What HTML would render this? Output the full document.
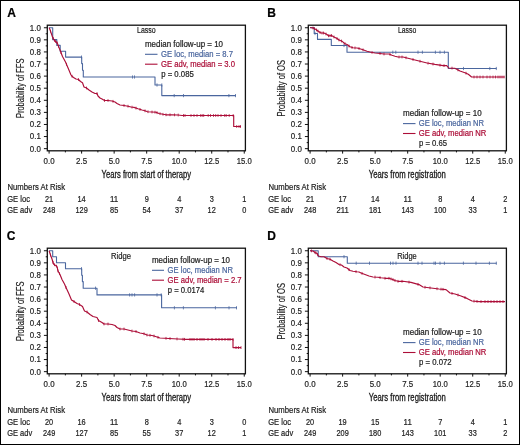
<!DOCTYPE html>
<html><head><meta charset="utf-8"><style>
html,body{margin:0;padding:0;background:#fff;}
body{width:520px;height:445px;overflow:hidden;position:relative;}
svg{display:block;position:absolute;left:0;top:0;will-change:transform;}
svg text{font-family:"Liberation Sans", sans-serif;stroke:currentColor;stroke-width:0.2px;}
.bd{position:absolute;left:0;top:0;width:518px;height:443px;border:1px solid #000;}
</style></head><body>
<svg width="520" height="445" viewBox="0 0 520 445" font-family="Liberation Sans, sans-serif">
<rect x="0" y="0" width="520" height="445" fill="#fff"/>
<g transform="translate(0,0)">
<text x="7.30" y="16.80" font-size="12.0" fill="#000" color="#000" font-weight="bold" font-family="Liberation Sans">A</text>
<rect x="47.3" y="25.2" width="198.10" height="125.60" fill="none" stroke="#111" stroke-width="1.3"/>
<line x1="43.90" y1="148.65" x2="47.30" y2="148.65" stroke="#111" stroke-width="1"/>
<text x="40.80" y="151.55" font-size="9.0" fill="#222" color="#222" text-anchor="end" textLength="11.0" lengthAdjust="spacingAndGlyphs">0.0</text>
<line x1="43.90" y1="136.56" x2="47.30" y2="136.56" stroke="#111" stroke-width="1"/>
<text x="40.80" y="139.46" font-size="9.0" fill="#222" color="#222" text-anchor="end" textLength="11.0" lengthAdjust="spacingAndGlyphs">0.1</text>
<line x1="43.90" y1="124.47" x2="47.30" y2="124.47" stroke="#111" stroke-width="1"/>
<text x="40.80" y="127.37" font-size="9.0" fill="#222" color="#222" text-anchor="end" textLength="11.0" lengthAdjust="spacingAndGlyphs">0.2</text>
<line x1="43.90" y1="112.38" x2="47.30" y2="112.38" stroke="#111" stroke-width="1"/>
<text x="40.80" y="115.28" font-size="9.0" fill="#222" color="#222" text-anchor="end" textLength="11.0" lengthAdjust="spacingAndGlyphs">0.3</text>
<line x1="43.90" y1="100.29" x2="47.30" y2="100.29" stroke="#111" stroke-width="1"/>
<text x="40.80" y="103.19" font-size="9.0" fill="#222" color="#222" text-anchor="end" textLength="11.0" lengthAdjust="spacingAndGlyphs">0.4</text>
<line x1="43.90" y1="88.20" x2="47.30" y2="88.20" stroke="#111" stroke-width="1"/>
<text x="40.80" y="91.10" font-size="9.0" fill="#222" color="#222" text-anchor="end" textLength="11.0" lengthAdjust="spacingAndGlyphs">0.5</text>
<line x1="43.90" y1="76.11" x2="47.30" y2="76.11" stroke="#111" stroke-width="1"/>
<text x="40.80" y="79.01" font-size="9.0" fill="#222" color="#222" text-anchor="end" textLength="11.0" lengthAdjust="spacingAndGlyphs">0.6</text>
<line x1="43.90" y1="64.02" x2="47.30" y2="64.02" stroke="#111" stroke-width="1"/>
<text x="40.80" y="66.92" font-size="9.0" fill="#222" color="#222" text-anchor="end" textLength="11.0" lengthAdjust="spacingAndGlyphs">0.7</text>
<line x1="43.90" y1="51.93" x2="47.30" y2="51.93" stroke="#111" stroke-width="1"/>
<text x="40.80" y="54.83" font-size="9.0" fill="#222" color="#222" text-anchor="end" textLength="11.0" lengthAdjust="spacingAndGlyphs">0.8</text>
<line x1="43.90" y1="39.84" x2="47.30" y2="39.84" stroke="#111" stroke-width="1"/>
<text x="40.80" y="42.74" font-size="9.0" fill="#222" color="#222" text-anchor="end" textLength="11.0" lengthAdjust="spacingAndGlyphs">0.9</text>
<line x1="43.90" y1="27.75" x2="47.30" y2="27.75" stroke="#111" stroke-width="1"/>
<text x="40.80" y="30.65" font-size="9.0" fill="#222" color="#222" text-anchor="end" textLength="11.0" lengthAdjust="spacingAndGlyphs">1.0</text>
<line x1="45.70" y1="142.61" x2="47.30" y2="142.61" stroke="#111" stroke-width="1"/>
<line x1="45.70" y1="130.51" x2="47.30" y2="130.51" stroke="#111" stroke-width="1"/>
<line x1="45.70" y1="118.43" x2="47.30" y2="118.43" stroke="#111" stroke-width="1"/>
<line x1="45.70" y1="106.34" x2="47.30" y2="106.34" stroke="#111" stroke-width="1"/>
<line x1="45.70" y1="94.25" x2="47.30" y2="94.25" stroke="#111" stroke-width="1"/>
<line x1="45.70" y1="82.16" x2="47.30" y2="82.16" stroke="#111" stroke-width="1"/>
<line x1="45.70" y1="70.06" x2="47.30" y2="70.06" stroke="#111" stroke-width="1"/>
<line x1="45.70" y1="57.97" x2="47.30" y2="57.97" stroke="#111" stroke-width="1"/>
<line x1="45.70" y1="45.88" x2="47.30" y2="45.88" stroke="#111" stroke-width="1"/>
<line x1="45.70" y1="33.79" x2="47.30" y2="33.79" stroke="#111" stroke-width="1"/>
<line x1="49.10" y1="150.80" x2="49.10" y2="153.60" stroke="#111" stroke-width="1"/>
<text x="49.10" y="164.30" font-size="9.0" fill="#222" color="#222" text-anchor="middle" textLength="11.0" lengthAdjust="spacingAndGlyphs">0.0</text>
<line x1="81.62" y1="150.80" x2="81.62" y2="153.60" stroke="#111" stroke-width="1"/>
<text x="81.62" y="164.30" font-size="9.0" fill="#222" color="#222" text-anchor="middle" textLength="11.0" lengthAdjust="spacingAndGlyphs">2.5</text>
<line x1="114.15" y1="150.80" x2="114.15" y2="153.60" stroke="#111" stroke-width="1"/>
<text x="114.15" y="164.30" font-size="9.0" fill="#222" color="#222" text-anchor="middle" textLength="11.0" lengthAdjust="spacingAndGlyphs">5.0</text>
<line x1="146.68" y1="150.80" x2="146.68" y2="153.60" stroke="#111" stroke-width="1"/>
<text x="146.68" y="164.30" font-size="9.0" fill="#222" color="#222" text-anchor="middle" textLength="11.0" lengthAdjust="spacingAndGlyphs">7.5</text>
<line x1="179.20" y1="150.80" x2="179.20" y2="153.60" stroke="#111" stroke-width="1"/>
<text x="179.20" y="164.30" font-size="9.0" fill="#222" color="#222" text-anchor="middle" textLength="15.0" lengthAdjust="spacingAndGlyphs">10.0</text>
<line x1="211.72" y1="150.80" x2="211.72" y2="153.60" stroke="#111" stroke-width="1"/>
<text x="211.72" y="164.30" font-size="9.0" fill="#222" color="#222" text-anchor="middle" textLength="15.0" lengthAdjust="spacingAndGlyphs">12.5</text>
<line x1="244.25" y1="150.80" x2="244.25" y2="153.60" stroke="#111" stroke-width="1"/>
<text x="244.25" y="164.30" font-size="9.0" fill="#222" color="#222" text-anchor="middle" textLength="15.0" lengthAdjust="spacingAndGlyphs">15.0</text>
<line x1="65.36" y1="150.80" x2="65.36" y2="152.40" stroke="#111" stroke-width="1"/>
<line x1="97.89" y1="150.80" x2="97.89" y2="152.40" stroke="#111" stroke-width="1"/>
<line x1="130.41" y1="150.80" x2="130.41" y2="152.40" stroke="#111" stroke-width="1"/>
<line x1="162.94" y1="150.80" x2="162.94" y2="152.40" stroke="#111" stroke-width="1"/>
<line x1="195.46" y1="150.80" x2="195.46" y2="152.40" stroke="#111" stroke-width="1"/>
<line x1="227.99" y1="150.80" x2="227.99" y2="152.40" stroke="#111" stroke-width="1"/>
<text transform="translate(146.3,177.6) scale(0.7626,1)" x="0" y="0" font-size="10.0" fill="#1a1a1a" color="#1a1a1a" style="stroke-width:0.3px" text-anchor="middle">Years from start of therapy</text>
<text transform="translate(24.3,88.3) rotate(-90) scale(0.7509,1)" x="0" y="0" font-size="10" fill="#222" color="#222" style="stroke-width:0.15px" text-anchor="middle">Probability of FFS</text>
<text x="7.50" y="190.00" font-size="8.5" fill="#222" color="#222" textLength="57.5" lengthAdjust="spacingAndGlyphs">Numbers At Risk</text>
<text x="7.20" y="201.70" font-size="8.5" fill="#222" color="#222" textLength="22.8" lengthAdjust="spacingAndGlyphs">GE loc</text>
<text x="7.20" y="212.80" font-size="8.5" fill="#222" color="#222" textLength="25.0" lengthAdjust="spacingAndGlyphs">GE adv</text>
<text x="49.10" y="201.70" font-size="8.5" fill="#222" color="#222" text-anchor="middle" textLength="8.2" lengthAdjust="spacingAndGlyphs">21</text>
<text x="49.10" y="212.80" font-size="8.5" fill="#222" color="#222" text-anchor="middle" textLength="12.299999999999999" lengthAdjust="spacingAndGlyphs">248</text>
<text x="81.62" y="201.70" font-size="8.5" fill="#222" color="#222" text-anchor="middle" textLength="8.2" lengthAdjust="spacingAndGlyphs">14</text>
<text x="81.62" y="212.80" font-size="8.5" fill="#222" color="#222" text-anchor="middle" textLength="12.299999999999999" lengthAdjust="spacingAndGlyphs">129</text>
<text x="114.15" y="201.70" font-size="8.5" fill="#222" color="#222" text-anchor="middle" textLength="8.2" lengthAdjust="spacingAndGlyphs">11</text>
<text x="114.15" y="212.80" font-size="8.5" fill="#222" color="#222" text-anchor="middle" textLength="8.2" lengthAdjust="spacingAndGlyphs">85</text>
<text x="146.68" y="201.70" font-size="8.5" fill="#222" color="#222" text-anchor="middle" textLength="4.1" lengthAdjust="spacingAndGlyphs">9</text>
<text x="146.68" y="212.80" font-size="8.5" fill="#222" color="#222" text-anchor="middle" textLength="8.2" lengthAdjust="spacingAndGlyphs">54</text>
<text x="179.20" y="201.70" font-size="8.5" fill="#222" color="#222" text-anchor="middle" textLength="4.1" lengthAdjust="spacingAndGlyphs">4</text>
<text x="179.20" y="212.80" font-size="8.5" fill="#222" color="#222" text-anchor="middle" textLength="8.2" lengthAdjust="spacingAndGlyphs">37</text>
<text x="211.72" y="201.70" font-size="8.5" fill="#222" color="#222" text-anchor="middle" textLength="4.1" lengthAdjust="spacingAndGlyphs">3</text>
<text x="211.72" y="212.80" font-size="8.5" fill="#222" color="#222" text-anchor="middle" textLength="8.2" lengthAdjust="spacingAndGlyphs">12</text>
<text x="244.25" y="201.70" font-size="8.5" fill="#222" color="#222" text-anchor="middle" textLength="4.1" lengthAdjust="spacingAndGlyphs">1</text>
<text x="244.25" y="212.80" font-size="8.5" fill="#222" color="#222" text-anchor="middle" textLength="4.1" lengthAdjust="spacingAndGlyphs">0</text>
</g>
<g transform="translate(261,0)">
<text x="6.30" y="16.80" font-size="12.0" fill="#000" color="#000" font-weight="bold" font-family="Liberation Sans">B</text>
<rect x="47.3" y="25.2" width="198.10" height="125.60" fill="none" stroke="#111" stroke-width="1.3"/>
<line x1="43.90" y1="148.65" x2="47.30" y2="148.65" stroke="#111" stroke-width="1"/>
<text x="40.80" y="151.55" font-size="9.0" fill="#222" color="#222" text-anchor="end" textLength="11.0" lengthAdjust="spacingAndGlyphs">0.0</text>
<line x1="43.90" y1="136.56" x2="47.30" y2="136.56" stroke="#111" stroke-width="1"/>
<text x="40.80" y="139.46" font-size="9.0" fill="#222" color="#222" text-anchor="end" textLength="11.0" lengthAdjust="spacingAndGlyphs">0.1</text>
<line x1="43.90" y1="124.47" x2="47.30" y2="124.47" stroke="#111" stroke-width="1"/>
<text x="40.80" y="127.37" font-size="9.0" fill="#222" color="#222" text-anchor="end" textLength="11.0" lengthAdjust="spacingAndGlyphs">0.2</text>
<line x1="43.90" y1="112.38" x2="47.30" y2="112.38" stroke="#111" stroke-width="1"/>
<text x="40.80" y="115.28" font-size="9.0" fill="#222" color="#222" text-anchor="end" textLength="11.0" lengthAdjust="spacingAndGlyphs">0.3</text>
<line x1="43.90" y1="100.29" x2="47.30" y2="100.29" stroke="#111" stroke-width="1"/>
<text x="40.80" y="103.19" font-size="9.0" fill="#222" color="#222" text-anchor="end" textLength="11.0" lengthAdjust="spacingAndGlyphs">0.4</text>
<line x1="43.90" y1="88.20" x2="47.30" y2="88.20" stroke="#111" stroke-width="1"/>
<text x="40.80" y="91.10" font-size="9.0" fill="#222" color="#222" text-anchor="end" textLength="11.0" lengthAdjust="spacingAndGlyphs">0.5</text>
<line x1="43.90" y1="76.11" x2="47.30" y2="76.11" stroke="#111" stroke-width="1"/>
<text x="40.80" y="79.01" font-size="9.0" fill="#222" color="#222" text-anchor="end" textLength="11.0" lengthAdjust="spacingAndGlyphs">0.6</text>
<line x1="43.90" y1="64.02" x2="47.30" y2="64.02" stroke="#111" stroke-width="1"/>
<text x="40.80" y="66.92" font-size="9.0" fill="#222" color="#222" text-anchor="end" textLength="11.0" lengthAdjust="spacingAndGlyphs">0.7</text>
<line x1="43.90" y1="51.93" x2="47.30" y2="51.93" stroke="#111" stroke-width="1"/>
<text x="40.80" y="54.83" font-size="9.0" fill="#222" color="#222" text-anchor="end" textLength="11.0" lengthAdjust="spacingAndGlyphs">0.8</text>
<line x1="43.90" y1="39.84" x2="47.30" y2="39.84" stroke="#111" stroke-width="1"/>
<text x="40.80" y="42.74" font-size="9.0" fill="#222" color="#222" text-anchor="end" textLength="11.0" lengthAdjust="spacingAndGlyphs">0.9</text>
<line x1="43.90" y1="27.75" x2="47.30" y2="27.75" stroke="#111" stroke-width="1"/>
<text x="40.80" y="30.65" font-size="9.0" fill="#222" color="#222" text-anchor="end" textLength="11.0" lengthAdjust="spacingAndGlyphs">1.0</text>
<line x1="45.70" y1="142.61" x2="47.30" y2="142.61" stroke="#111" stroke-width="1"/>
<line x1="45.70" y1="130.51" x2="47.30" y2="130.51" stroke="#111" stroke-width="1"/>
<line x1="45.70" y1="118.43" x2="47.30" y2="118.43" stroke="#111" stroke-width="1"/>
<line x1="45.70" y1="106.34" x2="47.30" y2="106.34" stroke="#111" stroke-width="1"/>
<line x1="45.70" y1="94.25" x2="47.30" y2="94.25" stroke="#111" stroke-width="1"/>
<line x1="45.70" y1="82.16" x2="47.30" y2="82.16" stroke="#111" stroke-width="1"/>
<line x1="45.70" y1="70.06" x2="47.30" y2="70.06" stroke="#111" stroke-width="1"/>
<line x1="45.70" y1="57.97" x2="47.30" y2="57.97" stroke="#111" stroke-width="1"/>
<line x1="45.70" y1="45.88" x2="47.30" y2="45.88" stroke="#111" stroke-width="1"/>
<line x1="45.70" y1="33.79" x2="47.30" y2="33.79" stroke="#111" stroke-width="1"/>
<line x1="49.10" y1="150.80" x2="49.10" y2="153.60" stroke="#111" stroke-width="1"/>
<text x="49.10" y="164.30" font-size="9.0" fill="#222" color="#222" text-anchor="middle" textLength="11.0" lengthAdjust="spacingAndGlyphs">0.0</text>
<line x1="81.62" y1="150.80" x2="81.62" y2="153.60" stroke="#111" stroke-width="1"/>
<text x="81.62" y="164.30" font-size="9.0" fill="#222" color="#222" text-anchor="middle" textLength="11.0" lengthAdjust="spacingAndGlyphs">2.5</text>
<line x1="114.15" y1="150.80" x2="114.15" y2="153.60" stroke="#111" stroke-width="1"/>
<text x="114.15" y="164.30" font-size="9.0" fill="#222" color="#222" text-anchor="middle" textLength="11.0" lengthAdjust="spacingAndGlyphs">5.0</text>
<line x1="146.68" y1="150.80" x2="146.68" y2="153.60" stroke="#111" stroke-width="1"/>
<text x="146.68" y="164.30" font-size="9.0" fill="#222" color="#222" text-anchor="middle" textLength="11.0" lengthAdjust="spacingAndGlyphs">7.5</text>
<line x1="179.20" y1="150.80" x2="179.20" y2="153.60" stroke="#111" stroke-width="1"/>
<text x="179.20" y="164.30" font-size="9.0" fill="#222" color="#222" text-anchor="middle" textLength="15.0" lengthAdjust="spacingAndGlyphs">10.0</text>
<line x1="211.72" y1="150.80" x2="211.72" y2="153.60" stroke="#111" stroke-width="1"/>
<text x="211.72" y="164.30" font-size="9.0" fill="#222" color="#222" text-anchor="middle" textLength="15.0" lengthAdjust="spacingAndGlyphs">12.5</text>
<line x1="244.25" y1="150.80" x2="244.25" y2="153.60" stroke="#111" stroke-width="1"/>
<text x="244.25" y="164.30" font-size="9.0" fill="#222" color="#222" text-anchor="middle" textLength="15.0" lengthAdjust="spacingAndGlyphs">15.0</text>
<line x1="65.36" y1="150.80" x2="65.36" y2="152.40" stroke="#111" stroke-width="1"/>
<line x1="97.89" y1="150.80" x2="97.89" y2="152.40" stroke="#111" stroke-width="1"/>
<line x1="130.41" y1="150.80" x2="130.41" y2="152.40" stroke="#111" stroke-width="1"/>
<line x1="162.94" y1="150.80" x2="162.94" y2="152.40" stroke="#111" stroke-width="1"/>
<line x1="195.46" y1="150.80" x2="195.46" y2="152.40" stroke="#111" stroke-width="1"/>
<line x1="227.99" y1="150.80" x2="227.99" y2="152.40" stroke="#111" stroke-width="1"/>
<text transform="translate(146.3,177.6) scale(0.7703,1)" x="0" y="0" font-size="10.0" fill="#1a1a1a" color="#1a1a1a" style="stroke-width:0.3px" text-anchor="middle">Years from registration</text>
<text transform="translate(24.3,88.3) rotate(-90) scale(0.7530,1)" x="0" y="0" font-size="10" fill="#222" color="#222" style="stroke-width:0.15px" text-anchor="middle">Probability of OS</text>
<text x="7.50" y="190.00" font-size="8.5" fill="#222" color="#222" textLength="57.5" lengthAdjust="spacingAndGlyphs">Numbers At Risk</text>
<text x="7.20" y="201.70" font-size="8.5" fill="#222" color="#222" textLength="22.8" lengthAdjust="spacingAndGlyphs">GE loc</text>
<text x="7.20" y="212.80" font-size="8.5" fill="#222" color="#222" textLength="25.0" lengthAdjust="spacingAndGlyphs">GE adv</text>
<text x="49.10" y="201.70" font-size="8.5" fill="#222" color="#222" text-anchor="middle" textLength="8.2" lengthAdjust="spacingAndGlyphs">21</text>
<text x="49.10" y="212.80" font-size="8.5" fill="#222" color="#222" text-anchor="middle" textLength="12.299999999999999" lengthAdjust="spacingAndGlyphs">248</text>
<text x="81.62" y="201.70" font-size="8.5" fill="#222" color="#222" text-anchor="middle" textLength="8.2" lengthAdjust="spacingAndGlyphs">17</text>
<text x="81.62" y="212.80" font-size="8.5" fill="#222" color="#222" text-anchor="middle" textLength="12.299999999999999" lengthAdjust="spacingAndGlyphs">211</text>
<text x="114.15" y="201.70" font-size="8.5" fill="#222" color="#222" text-anchor="middle" textLength="8.2" lengthAdjust="spacingAndGlyphs">14</text>
<text x="114.15" y="212.80" font-size="8.5" fill="#222" color="#222" text-anchor="middle" textLength="12.299999999999999" lengthAdjust="spacingAndGlyphs">181</text>
<text x="146.68" y="201.70" font-size="8.5" fill="#222" color="#222" text-anchor="middle" textLength="8.2" lengthAdjust="spacingAndGlyphs">11</text>
<text x="146.68" y="212.80" font-size="8.5" fill="#222" color="#222" text-anchor="middle" textLength="12.299999999999999" lengthAdjust="spacingAndGlyphs">143</text>
<text x="179.20" y="201.70" font-size="8.5" fill="#222" color="#222" text-anchor="middle" textLength="4.1" lengthAdjust="spacingAndGlyphs">8</text>
<text x="179.20" y="212.80" font-size="8.5" fill="#222" color="#222" text-anchor="middle" textLength="12.299999999999999" lengthAdjust="spacingAndGlyphs">100</text>
<text x="211.72" y="201.70" font-size="8.5" fill="#222" color="#222" text-anchor="middle" textLength="4.1" lengthAdjust="spacingAndGlyphs">4</text>
<text x="211.72" y="212.80" font-size="8.5" fill="#222" color="#222" text-anchor="middle" textLength="8.2" lengthAdjust="spacingAndGlyphs">33</text>
<text x="244.25" y="201.70" font-size="8.5" fill="#222" color="#222" text-anchor="middle" textLength="4.1" lengthAdjust="spacingAndGlyphs">2</text>
<text x="244.25" y="212.80" font-size="8.5" fill="#222" color="#222" text-anchor="middle" textLength="4.1" lengthAdjust="spacingAndGlyphs">1</text>
</g>
<g transform="translate(0,223)">
<text x="6.70" y="16.80" font-size="12.0" fill="#000" color="#000" font-weight="bold" font-family="Liberation Sans">C</text>
<rect x="47.3" y="25.2" width="198.10" height="125.60" fill="none" stroke="#111" stroke-width="1.3"/>
<line x1="43.90" y1="148.65" x2="47.30" y2="148.65" stroke="#111" stroke-width="1"/>
<text x="40.80" y="151.55" font-size="9.0" fill="#222" color="#222" text-anchor="end" textLength="11.0" lengthAdjust="spacingAndGlyphs">0.0</text>
<line x1="43.90" y1="136.56" x2="47.30" y2="136.56" stroke="#111" stroke-width="1"/>
<text x="40.80" y="139.46" font-size="9.0" fill="#222" color="#222" text-anchor="end" textLength="11.0" lengthAdjust="spacingAndGlyphs">0.1</text>
<line x1="43.90" y1="124.47" x2="47.30" y2="124.47" stroke="#111" stroke-width="1"/>
<text x="40.80" y="127.37" font-size="9.0" fill="#222" color="#222" text-anchor="end" textLength="11.0" lengthAdjust="spacingAndGlyphs">0.2</text>
<line x1="43.90" y1="112.38" x2="47.30" y2="112.38" stroke="#111" stroke-width="1"/>
<text x="40.80" y="115.28" font-size="9.0" fill="#222" color="#222" text-anchor="end" textLength="11.0" lengthAdjust="spacingAndGlyphs">0.3</text>
<line x1="43.90" y1="100.29" x2="47.30" y2="100.29" stroke="#111" stroke-width="1"/>
<text x="40.80" y="103.19" font-size="9.0" fill="#222" color="#222" text-anchor="end" textLength="11.0" lengthAdjust="spacingAndGlyphs">0.4</text>
<line x1="43.90" y1="88.20" x2="47.30" y2="88.20" stroke="#111" stroke-width="1"/>
<text x="40.80" y="91.10" font-size="9.0" fill="#222" color="#222" text-anchor="end" textLength="11.0" lengthAdjust="spacingAndGlyphs">0.5</text>
<line x1="43.90" y1="76.11" x2="47.30" y2="76.11" stroke="#111" stroke-width="1"/>
<text x="40.80" y="79.01" font-size="9.0" fill="#222" color="#222" text-anchor="end" textLength="11.0" lengthAdjust="spacingAndGlyphs">0.6</text>
<line x1="43.90" y1="64.02" x2="47.30" y2="64.02" stroke="#111" stroke-width="1"/>
<text x="40.80" y="66.92" font-size="9.0" fill="#222" color="#222" text-anchor="end" textLength="11.0" lengthAdjust="spacingAndGlyphs">0.7</text>
<line x1="43.90" y1="51.93" x2="47.30" y2="51.93" stroke="#111" stroke-width="1"/>
<text x="40.80" y="54.83" font-size="9.0" fill="#222" color="#222" text-anchor="end" textLength="11.0" lengthAdjust="spacingAndGlyphs">0.8</text>
<line x1="43.90" y1="39.84" x2="47.30" y2="39.84" stroke="#111" stroke-width="1"/>
<text x="40.80" y="42.74" font-size="9.0" fill="#222" color="#222" text-anchor="end" textLength="11.0" lengthAdjust="spacingAndGlyphs">0.9</text>
<line x1="43.90" y1="27.75" x2="47.30" y2="27.75" stroke="#111" stroke-width="1"/>
<text x="40.80" y="30.65" font-size="9.0" fill="#222" color="#222" text-anchor="end" textLength="11.0" lengthAdjust="spacingAndGlyphs">1.0</text>
<line x1="45.70" y1="142.61" x2="47.30" y2="142.61" stroke="#111" stroke-width="1"/>
<line x1="45.70" y1="130.51" x2="47.30" y2="130.51" stroke="#111" stroke-width="1"/>
<line x1="45.70" y1="118.43" x2="47.30" y2="118.43" stroke="#111" stroke-width="1"/>
<line x1="45.70" y1="106.34" x2="47.30" y2="106.34" stroke="#111" stroke-width="1"/>
<line x1="45.70" y1="94.25" x2="47.30" y2="94.25" stroke="#111" stroke-width="1"/>
<line x1="45.70" y1="82.16" x2="47.30" y2="82.16" stroke="#111" stroke-width="1"/>
<line x1="45.70" y1="70.06" x2="47.30" y2="70.06" stroke="#111" stroke-width="1"/>
<line x1="45.70" y1="57.97" x2="47.30" y2="57.97" stroke="#111" stroke-width="1"/>
<line x1="45.70" y1="45.88" x2="47.30" y2="45.88" stroke="#111" stroke-width="1"/>
<line x1="45.70" y1="33.79" x2="47.30" y2="33.79" stroke="#111" stroke-width="1"/>
<line x1="49.10" y1="150.80" x2="49.10" y2="153.60" stroke="#111" stroke-width="1"/>
<text x="49.10" y="164.30" font-size="9.0" fill="#222" color="#222" text-anchor="middle" textLength="11.0" lengthAdjust="spacingAndGlyphs">0.0</text>
<line x1="81.62" y1="150.80" x2="81.62" y2="153.60" stroke="#111" stroke-width="1"/>
<text x="81.62" y="164.30" font-size="9.0" fill="#222" color="#222" text-anchor="middle" textLength="11.0" lengthAdjust="spacingAndGlyphs">2.5</text>
<line x1="114.15" y1="150.80" x2="114.15" y2="153.60" stroke="#111" stroke-width="1"/>
<text x="114.15" y="164.30" font-size="9.0" fill="#222" color="#222" text-anchor="middle" textLength="11.0" lengthAdjust="spacingAndGlyphs">5.0</text>
<line x1="146.68" y1="150.80" x2="146.68" y2="153.60" stroke="#111" stroke-width="1"/>
<text x="146.68" y="164.30" font-size="9.0" fill="#222" color="#222" text-anchor="middle" textLength="11.0" lengthAdjust="spacingAndGlyphs">7.5</text>
<line x1="179.20" y1="150.80" x2="179.20" y2="153.60" stroke="#111" stroke-width="1"/>
<text x="179.20" y="164.30" font-size="9.0" fill="#222" color="#222" text-anchor="middle" textLength="15.0" lengthAdjust="spacingAndGlyphs">10.0</text>
<line x1="211.72" y1="150.80" x2="211.72" y2="153.60" stroke="#111" stroke-width="1"/>
<text x="211.72" y="164.30" font-size="9.0" fill="#222" color="#222" text-anchor="middle" textLength="15.0" lengthAdjust="spacingAndGlyphs">12.5</text>
<line x1="244.25" y1="150.80" x2="244.25" y2="153.60" stroke="#111" stroke-width="1"/>
<text x="244.25" y="164.30" font-size="9.0" fill="#222" color="#222" text-anchor="middle" textLength="15.0" lengthAdjust="spacingAndGlyphs">15.0</text>
<line x1="65.36" y1="150.80" x2="65.36" y2="152.40" stroke="#111" stroke-width="1"/>
<line x1="97.89" y1="150.80" x2="97.89" y2="152.40" stroke="#111" stroke-width="1"/>
<line x1="130.41" y1="150.80" x2="130.41" y2="152.40" stroke="#111" stroke-width="1"/>
<line x1="162.94" y1="150.80" x2="162.94" y2="152.40" stroke="#111" stroke-width="1"/>
<line x1="195.46" y1="150.80" x2="195.46" y2="152.40" stroke="#111" stroke-width="1"/>
<line x1="227.99" y1="150.80" x2="227.99" y2="152.40" stroke="#111" stroke-width="1"/>
<text transform="translate(146.3,177.6) scale(0.7626,1)" x="0" y="0" font-size="10.0" fill="#1a1a1a" color="#1a1a1a" style="stroke-width:0.3px" text-anchor="middle">Years from start of therapy</text>
<text transform="translate(24.3,88.3) rotate(-90) scale(0.7509,1)" x="0" y="0" font-size="10" fill="#222" color="#222" style="stroke-width:0.15px" text-anchor="middle">Probability of FFS</text>
<text x="7.50" y="190.00" font-size="8.5" fill="#222" color="#222" textLength="57.5" lengthAdjust="spacingAndGlyphs">Numbers At Risk</text>
<text x="7.20" y="201.70" font-size="8.5" fill="#222" color="#222" textLength="22.8" lengthAdjust="spacingAndGlyphs">GE loc</text>
<text x="7.20" y="212.80" font-size="8.5" fill="#222" color="#222" textLength="25.0" lengthAdjust="spacingAndGlyphs">GE adv</text>
<text x="49.10" y="201.70" font-size="8.5" fill="#222" color="#222" text-anchor="middle" textLength="8.2" lengthAdjust="spacingAndGlyphs">20</text>
<text x="49.10" y="212.80" font-size="8.5" fill="#222" color="#222" text-anchor="middle" textLength="12.299999999999999" lengthAdjust="spacingAndGlyphs">249</text>
<text x="81.62" y="201.70" font-size="8.5" fill="#222" color="#222" text-anchor="middle" textLength="8.2" lengthAdjust="spacingAndGlyphs">16</text>
<text x="81.62" y="212.80" font-size="8.5" fill="#222" color="#222" text-anchor="middle" textLength="12.299999999999999" lengthAdjust="spacingAndGlyphs">127</text>
<text x="114.15" y="201.70" font-size="8.5" fill="#222" color="#222" text-anchor="middle" textLength="8.2" lengthAdjust="spacingAndGlyphs">11</text>
<text x="114.15" y="212.80" font-size="8.5" fill="#222" color="#222" text-anchor="middle" textLength="8.2" lengthAdjust="spacingAndGlyphs">85</text>
<text x="146.68" y="201.70" font-size="8.5" fill="#222" color="#222" text-anchor="middle" textLength="4.1" lengthAdjust="spacingAndGlyphs">8</text>
<text x="146.68" y="212.80" font-size="8.5" fill="#222" color="#222" text-anchor="middle" textLength="8.2" lengthAdjust="spacingAndGlyphs">55</text>
<text x="179.20" y="201.70" font-size="8.5" fill="#222" color="#222" text-anchor="middle" textLength="4.1" lengthAdjust="spacingAndGlyphs">4</text>
<text x="179.20" y="212.80" font-size="8.5" fill="#222" color="#222" text-anchor="middle" textLength="8.2" lengthAdjust="spacingAndGlyphs">37</text>
<text x="211.72" y="201.70" font-size="8.5" fill="#222" color="#222" text-anchor="middle" textLength="4.1" lengthAdjust="spacingAndGlyphs">3</text>
<text x="211.72" y="212.80" font-size="8.5" fill="#222" color="#222" text-anchor="middle" textLength="8.2" lengthAdjust="spacingAndGlyphs">12</text>
<text x="244.25" y="201.70" font-size="8.5" fill="#222" color="#222" text-anchor="middle" textLength="4.1" lengthAdjust="spacingAndGlyphs">0</text>
<text x="244.25" y="212.80" font-size="8.5" fill="#222" color="#222" text-anchor="middle" textLength="4.1" lengthAdjust="spacingAndGlyphs">1</text>
</g>
<g transform="translate(261,223)">
<text x="6.30" y="16.80" font-size="12.0" fill="#000" color="#000" font-weight="bold" font-family="Liberation Sans">D</text>
<rect x="47.3" y="25.2" width="198.10" height="125.60" fill="none" stroke="#111" stroke-width="1.3"/>
<line x1="43.90" y1="148.65" x2="47.30" y2="148.65" stroke="#111" stroke-width="1"/>
<text x="40.80" y="151.55" font-size="9.0" fill="#222" color="#222" text-anchor="end" textLength="11.0" lengthAdjust="spacingAndGlyphs">0.0</text>
<line x1="43.90" y1="136.56" x2="47.30" y2="136.56" stroke="#111" stroke-width="1"/>
<text x="40.80" y="139.46" font-size="9.0" fill="#222" color="#222" text-anchor="end" textLength="11.0" lengthAdjust="spacingAndGlyphs">0.1</text>
<line x1="43.90" y1="124.47" x2="47.30" y2="124.47" stroke="#111" stroke-width="1"/>
<text x="40.80" y="127.37" font-size="9.0" fill="#222" color="#222" text-anchor="end" textLength="11.0" lengthAdjust="spacingAndGlyphs">0.2</text>
<line x1="43.90" y1="112.38" x2="47.30" y2="112.38" stroke="#111" stroke-width="1"/>
<text x="40.80" y="115.28" font-size="9.0" fill="#222" color="#222" text-anchor="end" textLength="11.0" lengthAdjust="spacingAndGlyphs">0.3</text>
<line x1="43.90" y1="100.29" x2="47.30" y2="100.29" stroke="#111" stroke-width="1"/>
<text x="40.80" y="103.19" font-size="9.0" fill="#222" color="#222" text-anchor="end" textLength="11.0" lengthAdjust="spacingAndGlyphs">0.4</text>
<line x1="43.90" y1="88.20" x2="47.30" y2="88.20" stroke="#111" stroke-width="1"/>
<text x="40.80" y="91.10" font-size="9.0" fill="#222" color="#222" text-anchor="end" textLength="11.0" lengthAdjust="spacingAndGlyphs">0.5</text>
<line x1="43.90" y1="76.11" x2="47.30" y2="76.11" stroke="#111" stroke-width="1"/>
<text x="40.80" y="79.01" font-size="9.0" fill="#222" color="#222" text-anchor="end" textLength="11.0" lengthAdjust="spacingAndGlyphs">0.6</text>
<line x1="43.90" y1="64.02" x2="47.30" y2="64.02" stroke="#111" stroke-width="1"/>
<text x="40.80" y="66.92" font-size="9.0" fill="#222" color="#222" text-anchor="end" textLength="11.0" lengthAdjust="spacingAndGlyphs">0.7</text>
<line x1="43.90" y1="51.93" x2="47.30" y2="51.93" stroke="#111" stroke-width="1"/>
<text x="40.80" y="54.83" font-size="9.0" fill="#222" color="#222" text-anchor="end" textLength="11.0" lengthAdjust="spacingAndGlyphs">0.8</text>
<line x1="43.90" y1="39.84" x2="47.30" y2="39.84" stroke="#111" stroke-width="1"/>
<text x="40.80" y="42.74" font-size="9.0" fill="#222" color="#222" text-anchor="end" textLength="11.0" lengthAdjust="spacingAndGlyphs">0.9</text>
<line x1="43.90" y1="27.75" x2="47.30" y2="27.75" stroke="#111" stroke-width="1"/>
<text x="40.80" y="30.65" font-size="9.0" fill="#222" color="#222" text-anchor="end" textLength="11.0" lengthAdjust="spacingAndGlyphs">1.0</text>
<line x1="45.70" y1="142.61" x2="47.30" y2="142.61" stroke="#111" stroke-width="1"/>
<line x1="45.70" y1="130.51" x2="47.30" y2="130.51" stroke="#111" stroke-width="1"/>
<line x1="45.70" y1="118.43" x2="47.30" y2="118.43" stroke="#111" stroke-width="1"/>
<line x1="45.70" y1="106.34" x2="47.30" y2="106.34" stroke="#111" stroke-width="1"/>
<line x1="45.70" y1="94.25" x2="47.30" y2="94.25" stroke="#111" stroke-width="1"/>
<line x1="45.70" y1="82.16" x2="47.30" y2="82.16" stroke="#111" stroke-width="1"/>
<line x1="45.70" y1="70.06" x2="47.30" y2="70.06" stroke="#111" stroke-width="1"/>
<line x1="45.70" y1="57.97" x2="47.30" y2="57.97" stroke="#111" stroke-width="1"/>
<line x1="45.70" y1="45.88" x2="47.30" y2="45.88" stroke="#111" stroke-width="1"/>
<line x1="45.70" y1="33.79" x2="47.30" y2="33.79" stroke="#111" stroke-width="1"/>
<line x1="49.10" y1="150.80" x2="49.10" y2="153.60" stroke="#111" stroke-width="1"/>
<text x="49.10" y="164.30" font-size="9.0" fill="#222" color="#222" text-anchor="middle" textLength="11.0" lengthAdjust="spacingAndGlyphs">0.0</text>
<line x1="81.62" y1="150.80" x2="81.62" y2="153.60" stroke="#111" stroke-width="1"/>
<text x="81.62" y="164.30" font-size="9.0" fill="#222" color="#222" text-anchor="middle" textLength="11.0" lengthAdjust="spacingAndGlyphs">2.5</text>
<line x1="114.15" y1="150.80" x2="114.15" y2="153.60" stroke="#111" stroke-width="1"/>
<text x="114.15" y="164.30" font-size="9.0" fill="#222" color="#222" text-anchor="middle" textLength="11.0" lengthAdjust="spacingAndGlyphs">5.0</text>
<line x1="146.68" y1="150.80" x2="146.68" y2="153.60" stroke="#111" stroke-width="1"/>
<text x="146.68" y="164.30" font-size="9.0" fill="#222" color="#222" text-anchor="middle" textLength="11.0" lengthAdjust="spacingAndGlyphs">7.5</text>
<line x1="179.20" y1="150.80" x2="179.20" y2="153.60" stroke="#111" stroke-width="1"/>
<text x="179.20" y="164.30" font-size="9.0" fill="#222" color="#222" text-anchor="middle" textLength="15.0" lengthAdjust="spacingAndGlyphs">10.0</text>
<line x1="211.72" y1="150.80" x2="211.72" y2="153.60" stroke="#111" stroke-width="1"/>
<text x="211.72" y="164.30" font-size="9.0" fill="#222" color="#222" text-anchor="middle" textLength="15.0" lengthAdjust="spacingAndGlyphs">12.5</text>
<line x1="244.25" y1="150.80" x2="244.25" y2="153.60" stroke="#111" stroke-width="1"/>
<text x="244.25" y="164.30" font-size="9.0" fill="#222" color="#222" text-anchor="middle" textLength="15.0" lengthAdjust="spacingAndGlyphs">15.0</text>
<line x1="65.36" y1="150.80" x2="65.36" y2="152.40" stroke="#111" stroke-width="1"/>
<line x1="97.89" y1="150.80" x2="97.89" y2="152.40" stroke="#111" stroke-width="1"/>
<line x1="130.41" y1="150.80" x2="130.41" y2="152.40" stroke="#111" stroke-width="1"/>
<line x1="162.94" y1="150.80" x2="162.94" y2="152.40" stroke="#111" stroke-width="1"/>
<line x1="195.46" y1="150.80" x2="195.46" y2="152.40" stroke="#111" stroke-width="1"/>
<line x1="227.99" y1="150.80" x2="227.99" y2="152.40" stroke="#111" stroke-width="1"/>
<text transform="translate(146.3,177.6) scale(0.7703,1)" x="0" y="0" font-size="10.0" fill="#1a1a1a" color="#1a1a1a" style="stroke-width:0.3px" text-anchor="middle">Years from registration</text>
<text transform="translate(24.3,88.3) rotate(-90) scale(0.7530,1)" x="0" y="0" font-size="10" fill="#222" color="#222" style="stroke-width:0.15px" text-anchor="middle">Probability of OS</text>
<text x="7.50" y="190.00" font-size="8.5" fill="#222" color="#222" textLength="57.5" lengthAdjust="spacingAndGlyphs">Numbers At Risk</text>
<text x="7.20" y="201.70" font-size="8.5" fill="#222" color="#222" textLength="22.8" lengthAdjust="spacingAndGlyphs">GE loc</text>
<text x="7.20" y="212.80" font-size="8.5" fill="#222" color="#222" textLength="25.0" lengthAdjust="spacingAndGlyphs">GE adv</text>
<text x="49.10" y="201.70" font-size="8.5" fill="#222" color="#222" text-anchor="middle" textLength="8.2" lengthAdjust="spacingAndGlyphs">20</text>
<text x="49.10" y="212.80" font-size="8.5" fill="#222" color="#222" text-anchor="middle" textLength="12.299999999999999" lengthAdjust="spacingAndGlyphs">249</text>
<text x="81.62" y="201.70" font-size="8.5" fill="#222" color="#222" text-anchor="middle" textLength="8.2" lengthAdjust="spacingAndGlyphs">19</text>
<text x="81.62" y="212.80" font-size="8.5" fill="#222" color="#222" text-anchor="middle" textLength="12.299999999999999" lengthAdjust="spacingAndGlyphs">209</text>
<text x="114.15" y="201.70" font-size="8.5" fill="#222" color="#222" text-anchor="middle" textLength="8.2" lengthAdjust="spacingAndGlyphs">15</text>
<text x="114.15" y="212.80" font-size="8.5" fill="#222" color="#222" text-anchor="middle" textLength="12.299999999999999" lengthAdjust="spacingAndGlyphs">180</text>
<text x="146.68" y="201.70" font-size="8.5" fill="#222" color="#222" text-anchor="middle" textLength="8.2" lengthAdjust="spacingAndGlyphs">11</text>
<text x="146.68" y="212.80" font-size="8.5" fill="#222" color="#222" text-anchor="middle" textLength="12.299999999999999" lengthAdjust="spacingAndGlyphs">143</text>
<text x="179.20" y="201.70" font-size="8.5" fill="#222" color="#222" text-anchor="middle" textLength="4.1" lengthAdjust="spacingAndGlyphs">7</text>
<text x="179.20" y="212.80" font-size="8.5" fill="#222" color="#222" text-anchor="middle" textLength="12.299999999999999" lengthAdjust="spacingAndGlyphs">101</text>
<text x="211.72" y="201.70" font-size="8.5" fill="#222" color="#222" text-anchor="middle" textLength="4.1" lengthAdjust="spacingAndGlyphs">4</text>
<text x="211.72" y="212.80" font-size="8.5" fill="#222" color="#222" text-anchor="middle" textLength="8.2" lengthAdjust="spacingAndGlyphs">33</text>
<text x="244.25" y="201.70" font-size="8.5" fill="#222" color="#222" text-anchor="middle" textLength="4.1" lengthAdjust="spacingAndGlyphs">1</text>
<text x="244.25" y="212.80" font-size="8.5" fill="#222" color="#222" text-anchor="middle" textLength="4.1" lengthAdjust="spacingAndGlyphs">2</text>
</g>
<text x="137.00" y="33.00" font-size="8.3" fill="#222" color="#222" textLength="18.6" lengthAdjust="spacingAndGlyphs">Lasso</text>
<text x="145.00" y="47.40" font-size="8.2" fill="#222" color="#222" textLength="78.0" lengthAdjust="spacingAndGlyphs">median follow-up = 10</text>
<line x1="145" y1="54.30" x2="157.5" y2="54.30" stroke="#4a669e" stroke-width="1.1"/>
<text x="161.00" y="57.40" font-size="8.2" fill="#4a669e" color="#4a669e" textLength="72.0" lengthAdjust="spacingAndGlyphs">GE loc, median = 8.7</text>
<line x1="145" y1="64.20" x2="157.5" y2="64.20" stroke="#ac0e38" stroke-width="1.1"/>
<text x="161.00" y="67.40" font-size="8.2" fill="#ac0e38" color="#ac0e38" textLength="74.0" lengthAdjust="spacingAndGlyphs">GE adv, median = 3.0</text>
<text x="161.20" y="77.40" font-size="8.2" fill="#222" color="#222" textLength="32.6" lengthAdjust="spacingAndGlyphs">p = 0.085</text>
<text x="398.00" y="32.70" font-size="8.3" fill="#222" color="#222" textLength="18.2" lengthAdjust="spacingAndGlyphs">Lasso</text>
<text x="403.00" y="115.70" font-size="8.2" fill="#222" color="#222" textLength="78.6" lengthAdjust="spacingAndGlyphs">median follow-up = 10</text>
<line x1="403" y1="123.60" x2="415.5" y2="123.60" stroke="#4a669e" stroke-width="1.1"/>
<text x="418.80" y="125.70" font-size="8.2" fill="#4a669e" color="#4a669e" textLength="65.2" lengthAdjust="spacingAndGlyphs">GE loc, median NR</text>
<line x1="403" y1="133.50" x2="415.5" y2="133.50" stroke="#ac0e38" stroke-width="1.1"/>
<text x="418.80" y="135.70" font-size="8.2" fill="#ac0e38" color="#ac0e38" textLength="67.6" lengthAdjust="spacingAndGlyphs">GE adv, median NR</text>
<text x="419.00" y="145.70" font-size="8.2" fill="#222" color="#222" textLength="28.0" lengthAdjust="spacingAndGlyphs">p = 0.65</text>
<text x="111.00" y="258.70" font-size="8.3" fill="#222" color="#222" textLength="20.0" lengthAdjust="spacingAndGlyphs">Ridge</text>
<text x="152.00" y="263.40" font-size="8.2" fill="#222" color="#222" textLength="78.0" lengthAdjust="spacingAndGlyphs">median follow-up = 10</text>
<line x1="152" y1="270.30" x2="164" y2="270.30" stroke="#4a669e" stroke-width="1.1"/>
<text x="167.60" y="273.40" font-size="8.2" fill="#4a669e" color="#4a669e" textLength="65.4" lengthAdjust="spacingAndGlyphs">GE loc, median NR</text>
<line x1="152" y1="280.20" x2="164" y2="280.20" stroke="#ac0e38" stroke-width="1.1"/>
<text x="167.60" y="283.40" font-size="8.2" fill="#ac0e38" color="#ac0e38" textLength="74.0" lengthAdjust="spacingAndGlyphs">GE adv, median = 2.7</text>
<text x="167.80" y="293.40" font-size="8.2" fill="#222" color="#222" textLength="36.4" lengthAdjust="spacingAndGlyphs">p = 0.0174</text>
<text x="397.20" y="258.70" font-size="8.3" fill="#222" color="#222" textLength="19.6" lengthAdjust="spacingAndGlyphs">Ridge</text>
<text x="403.00" y="334.70" font-size="8.2" fill="#222" color="#222" textLength="78.6" lengthAdjust="spacingAndGlyphs">median follow-up = 10</text>
<line x1="403" y1="342.60" x2="415.5" y2="342.60" stroke="#4a669e" stroke-width="1.1"/>
<text x="418.80" y="344.70" font-size="8.2" fill="#4a669e" color="#4a669e" textLength="65.2" lengthAdjust="spacingAndGlyphs">GE loc, median NR</text>
<line x1="403" y1="352.50" x2="415.5" y2="352.50" stroke="#ac0e38" stroke-width="1.1"/>
<text x="418.80" y="354.70" font-size="8.2" fill="#ac0e38" color="#ac0e38" textLength="67.6" lengthAdjust="spacingAndGlyphs">GE adv, median NR</text>
<text x="419.00" y="364.70" font-size="8.2" fill="#222" color="#222" textLength="32.6" lengthAdjust="spacingAndGlyphs">p = 0.072</text>
<polyline points="49.10,27.75 52.70,27.75 52.70,39.60 56.80,39.60 56.80,45.40 60.20,45.40 60.20,51.20 65.60,51.20 65.60,57.10 81.70,57.10 81.70,63.60 82.50,63.60 82.50,70.20 83.30,70.20 83.30,77.00 155.00,77.00 155.00,85.00 161.80,85.00 161.80,95.60 235.80,95.60 235.80,95.60" fill="none" stroke="#4a669e" stroke-width="1.1" stroke-linejoin="round"/>
<line x1="81.50" y1="55.50" x2="81.50" y2="58.70" stroke="#4a669e" stroke-width="0.8"/>
<line x1="132.50" y1="75.40" x2="132.50" y2="78.60" stroke="#4a669e" stroke-width="0.8"/>
<line x1="134.50" y1="75.40" x2="134.50" y2="78.60" stroke="#4a669e" stroke-width="0.8"/>
<line x1="157.00" y1="83.40" x2="157.00" y2="86.60" stroke="#4a669e" stroke-width="0.8"/>
<line x1="161.80" y1="83.40" x2="161.80" y2="86.60" stroke="#4a669e" stroke-width="0.8"/>
<line x1="174.20" y1="94.00" x2="174.20" y2="97.20" stroke="#4a669e" stroke-width="0.8"/>
<line x1="183.50" y1="94.00" x2="183.50" y2="97.20" stroke="#4a669e" stroke-width="0.8"/>
<line x1="228.90" y1="94.00" x2="228.90" y2="97.20" stroke="#4a669e" stroke-width="0.8"/>
<line x1="235.50" y1="94.00" x2="235.50" y2="97.20" stroke="#4a669e" stroke-width="0.8"/>
<polyline points="49.10,27.60 50.20,30.30 52.60,37.20 53.70,39.30 55.00,41.00 57.30,43.00 58.20,45.60 60.00,50.00 62.50,56.50 65.50,62.00 68.50,69.00 71.00,75.00 72.00,76.20 73.50,77.50 76.00,79.00 78.50,79.50 80.50,81.50 82.50,82.80 84.00,87.00 86.50,88.00 89.00,90.00 92.00,92.00 95.00,93.50 97.00,93.50 98.00,96.00 100.00,98.00 102.00,99.00 104.50,100.50 108.00,100.50 112.00,101.00 115.00,102.00 117.00,103.50 120.00,105.00 124.00,105.50 128.00,106.20 131.00,107.00 134.00,107.40 138.00,108.80 142.00,110.00 145.00,110.80 147.50,111.70 152.00,112.00 156.00,112.30 159.00,113.50 163.00,114.30 166.00,114.80 172.00,114.80 178.00,115.00 182.00,115.50 233.70,115.50 233.70,126.50 240.80,126.50" fill="none" stroke="#ac0e38" stroke-width="1.15" stroke-linejoin="round"/>
<line x1="50.50" y1="29.76" x2="50.50" y2="32.56" stroke="#ac0e38" stroke-width="0.8"/>
<line x1="53.20" y1="36.95" x2="53.20" y2="39.75" stroke="#ac0e38" stroke-width="0.8"/>
<line x1="54.60" y1="39.08" x2="54.60" y2="41.88" stroke="#ac0e38" stroke-width="0.8"/>
<line x1="55.60" y1="40.12" x2="55.60" y2="42.92" stroke="#ac0e38" stroke-width="0.8"/>
<line x1="57.00" y1="41.34" x2="57.00" y2="44.14" stroke="#ac0e38" stroke-width="0.8"/>
<line x1="58.50" y1="44.93" x2="58.50" y2="47.73" stroke="#ac0e38" stroke-width="0.8"/>
<line x1="61.00" y1="51.20" x2="61.00" y2="54.00" stroke="#ac0e38" stroke-width="0.8"/>
<line x1="66.50" y1="62.93" x2="66.50" y2="65.73" stroke="#ac0e38" stroke-width="0.8"/>
<line x1="72.00" y1="74.80" x2="72.00" y2="77.60" stroke="#ac0e38" stroke-width="0.8"/>
<line x1="78.50" y1="78.10" x2="78.50" y2="80.90" stroke="#ac0e38" stroke-width="0.8"/>
<line x1="86.50" y1="86.60" x2="86.50" y2="89.40" stroke="#ac0e38" stroke-width="0.8"/>
<line x1="97.00" y1="92.10" x2="97.00" y2="94.90" stroke="#ac0e38" stroke-width="0.8"/>
<line x1="104.50" y1="99.10" x2="104.50" y2="101.90" stroke="#ac0e38" stroke-width="0.8"/>
<line x1="108.00" y1="99.10" x2="108.00" y2="101.90" stroke="#ac0e38" stroke-width="0.8"/>
<line x1="113.00" y1="99.93" x2="113.00" y2="102.73" stroke="#ac0e38" stroke-width="0.8"/>
<line x1="124.00" y1="104.10" x2="124.00" y2="106.90" stroke="#ac0e38" stroke-width="0.8"/>
<line x1="128.00" y1="104.80" x2="128.00" y2="107.60" stroke="#ac0e38" stroke-width="0.8"/>
<line x1="132.00" y1="105.73" x2="132.00" y2="108.53" stroke="#ac0e38" stroke-width="0.8"/>
<line x1="136.00" y1="106.70" x2="136.00" y2="109.50" stroke="#ac0e38" stroke-width="0.8"/>
<line x1="140.00" y1="108.00" x2="140.00" y2="110.80" stroke="#ac0e38" stroke-width="0.8"/>
<line x1="145.00" y1="109.40" x2="145.00" y2="112.20" stroke="#ac0e38" stroke-width="0.8"/>
<line x1="148.00" y1="110.33" x2="148.00" y2="113.13" stroke="#ac0e38" stroke-width="0.8"/>
<line x1="152.00" y1="110.60" x2="152.00" y2="113.40" stroke="#ac0e38" stroke-width="0.8"/>
<line x1="155.00" y1="110.82" x2="155.00" y2="113.62" stroke="#ac0e38" stroke-width="0.8"/>
<line x1="157.00" y1="111.30" x2="157.00" y2="114.10" stroke="#ac0e38" stroke-width="0.8"/>
<line x1="160.00" y1="112.30" x2="160.00" y2="115.10" stroke="#ac0e38" stroke-width="0.8"/>
<line x1="163.00" y1="112.90" x2="163.00" y2="115.70" stroke="#ac0e38" stroke-width="0.8"/>
<line x1="166.00" y1="113.40" x2="166.00" y2="116.20" stroke="#ac0e38" stroke-width="0.8"/>
<line x1="170.00" y1="113.40" x2="170.00" y2="116.20" stroke="#ac0e38" stroke-width="0.8"/>
<line x1="174.50" y1="113.48" x2="174.50" y2="116.28" stroke="#ac0e38" stroke-width="0.8"/>
<line x1="178.20" y1="113.62" x2="178.20" y2="116.43" stroke="#ac0e38" stroke-width="0.8"/>
<line x1="183.50" y1="114.10" x2="183.50" y2="116.90" stroke="#ac0e38" stroke-width="0.8"/>
<line x1="185.00" y1="114.10" x2="185.00" y2="116.90" stroke="#ac0e38" stroke-width="0.8"/>
<line x1="191.00" y1="114.10" x2="191.00" y2="116.90" stroke="#ac0e38" stroke-width="0.8"/>
<line x1="194.00" y1="114.10" x2="194.00" y2="116.90" stroke="#ac0e38" stroke-width="0.8"/>
<line x1="197.00" y1="114.10" x2="197.00" y2="116.90" stroke="#ac0e38" stroke-width="0.8"/>
<line x1="200.70" y1="114.10" x2="200.70" y2="116.90" stroke="#ac0e38" stroke-width="0.8"/>
<line x1="202.20" y1="114.10" x2="202.20" y2="116.90" stroke="#ac0e38" stroke-width="0.8"/>
<line x1="203.70" y1="114.10" x2="203.70" y2="116.90" stroke="#ac0e38" stroke-width="0.8"/>
<line x1="208.20" y1="114.10" x2="208.20" y2="116.90" stroke="#ac0e38" stroke-width="0.8"/>
<line x1="210.50" y1="114.10" x2="210.50" y2="116.90" stroke="#ac0e38" stroke-width="0.8"/>
<line x1="213.50" y1="114.10" x2="213.50" y2="116.90" stroke="#ac0e38" stroke-width="0.8"/>
<line x1="215.70" y1="114.10" x2="215.70" y2="116.90" stroke="#ac0e38" stroke-width="0.8"/>
<line x1="218.00" y1="114.10" x2="218.00" y2="116.90" stroke="#ac0e38" stroke-width="0.8"/>
<line x1="221.00" y1="114.10" x2="221.00" y2="116.90" stroke="#ac0e38" stroke-width="0.8"/>
<line x1="224.70" y1="114.10" x2="224.70" y2="116.90" stroke="#ac0e38" stroke-width="0.8"/>
<line x1="226.20" y1="114.10" x2="226.20" y2="116.90" stroke="#ac0e38" stroke-width="0.8"/>
<line x1="229.20" y1="114.10" x2="229.20" y2="116.90" stroke="#ac0e38" stroke-width="0.8"/>
<line x1="233.20" y1="114.10" x2="233.20" y2="116.90" stroke="#ac0e38" stroke-width="0.8"/>
<line x1="236.70" y1="125.10" x2="236.70" y2="127.90" stroke="#ac0e38" stroke-width="0.8"/>
<line x1="239.00" y1="125.10" x2="239.00" y2="127.90" stroke="#ac0e38" stroke-width="0.8"/>
<line x1="240.50" y1="125.10" x2="240.50" y2="127.90" stroke="#ac0e38" stroke-width="0.8"/>
<polyline points="310.00,27.60 314.20,27.60 314.20,33.50 317.50,33.50 317.50,39.40 331.30,39.40 331.30,45.50 347.00,45.50 347.00,52.20 448.30,52.20 448.30,68.50 496.50,68.50 496.50,68.50" fill="none" stroke="#4a669e" stroke-width="1.1" stroke-linejoin="round"/>
<line x1="315.00" y1="31.90" x2="315.00" y2="35.10" stroke="#4a669e" stroke-width="0.8"/>
<line x1="344.00" y1="43.90" x2="344.00" y2="47.10" stroke="#4a669e" stroke-width="0.8"/>
<line x1="392.80" y1="50.60" x2="392.80" y2="53.80" stroke="#4a669e" stroke-width="0.8"/>
<line x1="395.80" y1="50.60" x2="395.80" y2="53.80" stroke="#4a669e" stroke-width="0.8"/>
<line x1="418.00" y1="50.60" x2="418.00" y2="53.80" stroke="#4a669e" stroke-width="0.8"/>
<line x1="422.40" y1="50.60" x2="422.40" y2="53.80" stroke="#4a669e" stroke-width="0.8"/>
<line x1="435.40" y1="50.60" x2="435.40" y2="53.80" stroke="#4a669e" stroke-width="0.8"/>
<line x1="440.00" y1="50.60" x2="440.00" y2="53.80" stroke="#4a669e" stroke-width="0.8"/>
<line x1="444.40" y1="50.60" x2="444.40" y2="53.80" stroke="#4a669e" stroke-width="0.8"/>
<line x1="463.50" y1="66.90" x2="463.50" y2="70.10" stroke="#4a669e" stroke-width="0.8"/>
<line x1="489.80" y1="66.90" x2="489.80" y2="70.10" stroke="#4a669e" stroke-width="0.8"/>
<line x1="496.30" y1="66.90" x2="496.30" y2="70.10" stroke="#4a669e" stroke-width="0.8"/>
<polyline points="310.00,27.50 313.00,28.00 316.00,29.50 318.50,31.50 321.00,33.00 324.00,33.00 327.00,34.50 328.50,35.80 331.50,35.50 334.00,37.00 337.00,38.50 339.00,40.00 342.00,41.20 344.50,43.50 347.00,44.50 350.00,46.80 353.00,47.80 357.00,48.00 359.00,48.50 363.00,49.80 367.00,51.20 371.00,52.20 375.00,53.00 380.00,53.50 384.00,54.00 389.00,54.00 392.00,55.20 395.00,56.30 398.00,57.00 403.00,57.00 411.00,59.00 419.00,61.00 427.00,63.00 435.00,64.40 443.00,65.60 446.70,65.60 448.70,68.00 454.80,68.20 460.00,71.00 465.60,73.00 468.30,74.30 471.60,77.00 504.60,77.00" fill="none" stroke="#ac0e38" stroke-width="1.15" stroke-linejoin="round"/>
<line x1="313.00" y1="26.60" x2="313.00" y2="29.40" stroke="#ac0e38" stroke-width="0.8"/>
<line x1="314.50" y1="27.35" x2="314.50" y2="30.15" stroke="#ac0e38" stroke-width="0.8"/>
<line x1="316.50" y1="28.50" x2="316.50" y2="31.30" stroke="#ac0e38" stroke-width="0.8"/>
<line x1="318.00" y1="29.70" x2="318.00" y2="32.50" stroke="#ac0e38" stroke-width="0.8"/>
<line x1="320.00" y1="31.00" x2="320.00" y2="33.80" stroke="#ac0e38" stroke-width="0.8"/>
<line x1="322.00" y1="31.60" x2="322.00" y2="34.40" stroke="#ac0e38" stroke-width="0.8"/>
<line x1="323.50" y1="31.60" x2="323.50" y2="34.40" stroke="#ac0e38" stroke-width="0.8"/>
<line x1="326.00" y1="32.60" x2="326.00" y2="35.40" stroke="#ac0e38" stroke-width="0.8"/>
<line x1="328.50" y1="34.40" x2="328.50" y2="37.20" stroke="#ac0e38" stroke-width="0.8"/>
<line x1="330.00" y1="34.25" x2="330.00" y2="37.05" stroke="#ac0e38" stroke-width="0.8"/>
<line x1="331.50" y1="34.10" x2="331.50" y2="36.90" stroke="#ac0e38" stroke-width="0.8"/>
<line x1="334.00" y1="35.60" x2="334.00" y2="38.40" stroke="#ac0e38" stroke-width="0.8"/>
<line x1="337.00" y1="37.10" x2="337.00" y2="39.90" stroke="#ac0e38" stroke-width="0.8"/>
<line x1="339.00" y1="38.60" x2="339.00" y2="41.40" stroke="#ac0e38" stroke-width="0.8"/>
<line x1="341.50" y1="39.60" x2="341.50" y2="42.40" stroke="#ac0e38" stroke-width="0.8"/>
<line x1="345.00" y1="42.30" x2="345.00" y2="45.10" stroke="#ac0e38" stroke-width="0.8"/>
<line x1="349.00" y1="44.63" x2="349.00" y2="47.43" stroke="#ac0e38" stroke-width="0.8"/>
<line x1="355.00" y1="46.50" x2="355.00" y2="49.30" stroke="#ac0e38" stroke-width="0.8"/>
<line x1="352.00" y1="46.07" x2="352.00" y2="48.87" stroke="#ac0e38" stroke-width="0.8"/>
<line x1="359.00" y1="47.10" x2="359.00" y2="49.90" stroke="#ac0e38" stroke-width="0.8"/>
<line x1="363.00" y1="48.40" x2="363.00" y2="51.20" stroke="#ac0e38" stroke-width="0.8"/>
<line x1="372.00" y1="51.00" x2="372.00" y2="53.80" stroke="#ac0e38" stroke-width="0.8"/>
<line x1="380.00" y1="52.10" x2="380.00" y2="54.90" stroke="#ac0e38" stroke-width="0.8"/>
<line x1="384.00" y1="52.60" x2="384.00" y2="55.40" stroke="#ac0e38" stroke-width="0.8"/>
<line x1="390.00" y1="53.00" x2="390.00" y2="55.80" stroke="#ac0e38" stroke-width="0.8"/>
<line x1="399.00" y1="55.60" x2="399.00" y2="58.40" stroke="#ac0e38" stroke-width="0.8"/>
<line x1="402.00" y1="55.60" x2="402.00" y2="58.40" stroke="#ac0e38" stroke-width="0.8"/>
<line x1="406.00" y1="56.35" x2="406.00" y2="59.15" stroke="#ac0e38" stroke-width="0.8"/>
<line x1="413.00" y1="58.10" x2="413.00" y2="60.90" stroke="#ac0e38" stroke-width="0.8"/>
<line x1="420.00" y1="59.85" x2="420.00" y2="62.65" stroke="#ac0e38" stroke-width="0.8"/>
<line x1="428.00" y1="61.77" x2="428.00" y2="64.58" stroke="#ac0e38" stroke-width="0.8"/>
<line x1="433.00" y1="62.65" x2="433.00" y2="65.45" stroke="#ac0e38" stroke-width="0.8"/>
<line x1="440.00" y1="63.75" x2="440.00" y2="66.55" stroke="#ac0e38" stroke-width="0.8"/>
<line x1="444.00" y1="64.20" x2="444.00" y2="67.00" stroke="#ac0e38" stroke-width="0.8"/>
<line x1="452.00" y1="66.71" x2="452.00" y2="69.51" stroke="#ac0e38" stroke-width="0.8"/>
<line x1="458.00" y1="68.52" x2="458.00" y2="71.32" stroke="#ac0e38" stroke-width="0.8"/>
<line x1="466.00" y1="71.79" x2="466.00" y2="74.59" stroke="#ac0e38" stroke-width="0.8"/>
<line x1="474.00" y1="75.60" x2="474.00" y2="78.40" stroke="#ac0e38" stroke-width="0.8"/>
<line x1="477.00" y1="75.60" x2="477.00" y2="78.40" stroke="#ac0e38" stroke-width="0.8"/>
<line x1="480.00" y1="75.60" x2="480.00" y2="78.40" stroke="#ac0e38" stroke-width="0.8"/>
<line x1="483.00" y1="75.60" x2="483.00" y2="78.40" stroke="#ac0e38" stroke-width="0.8"/>
<line x1="487.00" y1="75.60" x2="487.00" y2="78.40" stroke="#ac0e38" stroke-width="0.8"/>
<line x1="490.00" y1="75.60" x2="490.00" y2="78.40" stroke="#ac0e38" stroke-width="0.8"/>
<line x1="493.00" y1="75.60" x2="493.00" y2="78.40" stroke="#ac0e38" stroke-width="0.8"/>
<line x1="495.50" y1="75.60" x2="495.50" y2="78.40" stroke="#ac0e38" stroke-width="0.8"/>
<line x1="498.00" y1="75.60" x2="498.00" y2="78.40" stroke="#ac0e38" stroke-width="0.8"/>
<line x1="500.00" y1="75.60" x2="500.00" y2="78.40" stroke="#ac0e38" stroke-width="0.8"/>
<line x1="502.00" y1="75.60" x2="502.00" y2="78.40" stroke="#ac0e38" stroke-width="0.8"/>
<line x1="504.00" y1="75.60" x2="504.00" y2="78.40" stroke="#ac0e38" stroke-width="0.8"/>
<polyline points="49.10,250.75 52.70,250.75 52.70,256.70 56.50,256.70 56.50,262.70 65.50,262.70 65.50,268.70 81.70,268.70 81.70,275.20 82.40,275.20 82.40,281.60 83.20,281.60 83.20,288.20 97.00,288.20 97.00,294.90 161.60,294.90 161.60,307.80 237.00,307.80 237.00,307.80" fill="none" stroke="#4a669e" stroke-width="1.1" stroke-linejoin="round"/>
<line x1="81.50" y1="267.10" x2="81.50" y2="270.30" stroke="#4a669e" stroke-width="0.8"/>
<line x1="95.50" y1="286.60" x2="95.50" y2="289.80" stroke="#4a669e" stroke-width="0.8"/>
<line x1="129.60" y1="293.30" x2="129.60" y2="296.50" stroke="#4a669e" stroke-width="0.8"/>
<line x1="132.00" y1="293.30" x2="132.00" y2="296.50" stroke="#4a669e" stroke-width="0.8"/>
<line x1="134.60" y1="293.30" x2="134.60" y2="296.50" stroke="#4a669e" stroke-width="0.8"/>
<line x1="157.00" y1="293.30" x2="157.00" y2="296.50" stroke="#4a669e" stroke-width="0.8"/>
<line x1="161.20" y1="293.30" x2="161.20" y2="296.50" stroke="#4a669e" stroke-width="0.8"/>
<line x1="174.40" y1="306.20" x2="174.40" y2="309.40" stroke="#4a669e" stroke-width="0.8"/>
<line x1="183.40" y1="306.20" x2="183.40" y2="309.40" stroke="#4a669e" stroke-width="0.8"/>
<line x1="215.40" y1="306.20" x2="215.40" y2="309.40" stroke="#4a669e" stroke-width="0.8"/>
<line x1="229.00" y1="306.20" x2="229.00" y2="309.40" stroke="#4a669e" stroke-width="0.8"/>
<line x1="236.50" y1="306.20" x2="236.50" y2="309.40" stroke="#4a669e" stroke-width="0.8"/>
<polyline points="49.10,250.80 50.50,255.00 52.00,259.00 53.50,264.00 55.50,265.50 57.00,266.50 58.00,271.00 60.00,274.50 62.00,279.50 64.50,284.00 66.00,287.50 69.00,294.00 71.50,300.00 74.00,301.50 77.00,303.50 79.50,304.50 82.50,306.50 84.50,311.00 87.00,312.00 90.00,314.50 93.00,316.50 97.00,317.50 98.50,320.50 102.00,322.50 104.00,324.00 108.00,324.00 112.00,324.50 115.00,325.50 117.00,327.50 120.00,329.00 124.00,329.00 128.00,330.00 132.00,331.00 136.00,331.50 140.00,333.00 144.00,333.80 147.00,335.00 152.00,335.50 154.00,336.00 160.00,338.00 178.00,339.00 186.00,339.40 233.00,339.40 233.00,347.60 241.00,347.60" fill="none" stroke="#ac0e38" stroke-width="1.15" stroke-linejoin="round"/>
<line x1="50.50" y1="253.60" x2="50.50" y2="256.40" stroke="#ac0e38" stroke-width="0.8"/>
<line x1="53.00" y1="260.93" x2="53.00" y2="263.73" stroke="#ac0e38" stroke-width="0.8"/>
<line x1="54.50" y1="263.35" x2="54.50" y2="266.15" stroke="#ac0e38" stroke-width="0.8"/>
<line x1="56.50" y1="264.77" x2="56.50" y2="267.57" stroke="#ac0e38" stroke-width="0.8"/>
<line x1="57.50" y1="267.35" x2="57.50" y2="270.15" stroke="#ac0e38" stroke-width="0.8"/>
<line x1="59.50" y1="272.23" x2="59.50" y2="275.02" stroke="#ac0e38" stroke-width="0.8"/>
<line x1="58.00" y1="269.60" x2="58.00" y2="272.40" stroke="#ac0e38" stroke-width="0.8"/>
<line x1="66.00" y1="286.10" x2="66.00" y2="288.90" stroke="#ac0e38" stroke-width="0.8"/>
<line x1="74.00" y1="300.10" x2="74.00" y2="302.90" stroke="#ac0e38" stroke-width="0.8"/>
<line x1="79.50" y1="303.10" x2="79.50" y2="305.90" stroke="#ac0e38" stroke-width="0.8"/>
<line x1="87.00" y1="310.60" x2="87.00" y2="313.40" stroke="#ac0e38" stroke-width="0.8"/>
<line x1="98.50" y1="319.10" x2="98.50" y2="321.90" stroke="#ac0e38" stroke-width="0.8"/>
<line x1="104.00" y1="322.60" x2="104.00" y2="325.40" stroke="#ac0e38" stroke-width="0.8"/>
<line x1="108.00" y1="322.60" x2="108.00" y2="325.40" stroke="#ac0e38" stroke-width="0.8"/>
<line x1="120.00" y1="327.60" x2="120.00" y2="330.40" stroke="#ac0e38" stroke-width="0.8"/>
<line x1="124.00" y1="327.60" x2="124.00" y2="330.40" stroke="#ac0e38" stroke-width="0.8"/>
<line x1="132.00" y1="329.60" x2="132.00" y2="332.40" stroke="#ac0e38" stroke-width="0.8"/>
<line x1="136.00" y1="330.10" x2="136.00" y2="332.90" stroke="#ac0e38" stroke-width="0.8"/>
<line x1="144.00" y1="332.40" x2="144.00" y2="335.20" stroke="#ac0e38" stroke-width="0.8"/>
<line x1="147.00" y1="333.60" x2="147.00" y2="336.40" stroke="#ac0e38" stroke-width="0.8"/>
<line x1="150.00" y1="333.90" x2="150.00" y2="336.70" stroke="#ac0e38" stroke-width="0.8"/>
<line x1="154.00" y1="334.60" x2="154.00" y2="337.40" stroke="#ac0e38" stroke-width="0.8"/>
<line x1="158.00" y1="335.93" x2="158.00" y2="338.73" stroke="#ac0e38" stroke-width="0.8"/>
<line x1="166.00" y1="336.93" x2="166.00" y2="339.73" stroke="#ac0e38" stroke-width="0.8"/>
<line x1="170.00" y1="337.16" x2="170.00" y2="339.96" stroke="#ac0e38" stroke-width="0.8"/>
<line x1="177.00" y1="337.54" x2="177.00" y2="340.34" stroke="#ac0e38" stroke-width="0.8"/>
<line x1="183.00" y1="337.85" x2="183.00" y2="340.65" stroke="#ac0e38" stroke-width="0.8"/>
<line x1="184.50" y1="337.93" x2="184.50" y2="340.72" stroke="#ac0e38" stroke-width="0.8"/>
<line x1="190.00" y1="338.00" x2="190.00" y2="340.80" stroke="#ac0e38" stroke-width="0.8"/>
<line x1="192.00" y1="338.00" x2="192.00" y2="340.80" stroke="#ac0e38" stroke-width="0.8"/>
<line x1="194.00" y1="338.00" x2="194.00" y2="340.80" stroke="#ac0e38" stroke-width="0.8"/>
<line x1="197.00" y1="338.00" x2="197.00" y2="340.80" stroke="#ac0e38" stroke-width="0.8"/>
<line x1="200.00" y1="338.00" x2="200.00" y2="340.80" stroke="#ac0e38" stroke-width="0.8"/>
<line x1="202.00" y1="338.00" x2="202.00" y2="340.80" stroke="#ac0e38" stroke-width="0.8"/>
<line x1="204.00" y1="338.00" x2="204.00" y2="340.80" stroke="#ac0e38" stroke-width="0.8"/>
<line x1="208.00" y1="338.00" x2="208.00" y2="340.80" stroke="#ac0e38" stroke-width="0.8"/>
<line x1="212.00" y1="338.00" x2="212.00" y2="340.80" stroke="#ac0e38" stroke-width="0.8"/>
<line x1="216.00" y1="338.00" x2="216.00" y2="340.80" stroke="#ac0e38" stroke-width="0.8"/>
<line x1="219.00" y1="338.00" x2="219.00" y2="340.80" stroke="#ac0e38" stroke-width="0.8"/>
<line x1="222.00" y1="338.00" x2="222.00" y2="340.80" stroke="#ac0e38" stroke-width="0.8"/>
<line x1="225.00" y1="338.00" x2="225.00" y2="340.80" stroke="#ac0e38" stroke-width="0.8"/>
<line x1="228.00" y1="338.00" x2="228.00" y2="340.80" stroke="#ac0e38" stroke-width="0.8"/>
<line x1="230.00" y1="338.00" x2="230.00" y2="340.80" stroke="#ac0e38" stroke-width="0.8"/>
<line x1="233.00" y1="338.00" x2="233.00" y2="340.80" stroke="#ac0e38" stroke-width="0.8"/>
<line x1="236.00" y1="346.20" x2="236.00" y2="349.00" stroke="#ac0e38" stroke-width="0.8"/>
<line x1="238.50" y1="346.20" x2="238.50" y2="349.00" stroke="#ac0e38" stroke-width="0.8"/>
<line x1="241.00" y1="346.20" x2="241.00" y2="349.00" stroke="#ac0e38" stroke-width="0.8"/>
<polyline points="310.00,250.70 318.20,250.70 318.20,256.70 347.30,256.70 347.30,263.20 496.60,263.20 496.60,263.20" fill="none" stroke="#4a669e" stroke-width="1.1" stroke-linejoin="round"/>
<line x1="344.00" y1="255.10" x2="344.00" y2="258.30" stroke="#4a669e" stroke-width="0.8"/>
<line x1="356.20" y1="261.60" x2="356.20" y2="264.80" stroke="#4a669e" stroke-width="0.8"/>
<line x1="369.50" y1="261.60" x2="369.50" y2="264.80" stroke="#4a669e" stroke-width="0.8"/>
<line x1="390.50" y1="261.60" x2="390.50" y2="264.80" stroke="#4a669e" stroke-width="0.8"/>
<line x1="393.00" y1="261.60" x2="393.00" y2="264.80" stroke="#4a669e" stroke-width="0.8"/>
<line x1="396.00" y1="261.60" x2="396.00" y2="264.80" stroke="#4a669e" stroke-width="0.8"/>
<line x1="418.00" y1="261.60" x2="418.00" y2="264.80" stroke="#4a669e" stroke-width="0.8"/>
<line x1="422.00" y1="261.60" x2="422.00" y2="264.80" stroke="#4a669e" stroke-width="0.8"/>
<line x1="434.00" y1="261.60" x2="434.00" y2="264.80" stroke="#4a669e" stroke-width="0.8"/>
<line x1="435.50" y1="261.60" x2="435.50" y2="264.80" stroke="#4a669e" stroke-width="0.8"/>
<line x1="440.00" y1="261.60" x2="440.00" y2="264.80" stroke="#4a669e" stroke-width="0.8"/>
<line x1="444.40" y1="261.60" x2="444.40" y2="264.80" stroke="#4a669e" stroke-width="0.8"/>
<line x1="463.40" y1="261.60" x2="463.40" y2="264.80" stroke="#4a669e" stroke-width="0.8"/>
<line x1="476.00" y1="261.60" x2="476.00" y2="264.80" stroke="#4a669e" stroke-width="0.8"/>
<line x1="489.40" y1="261.60" x2="489.40" y2="264.80" stroke="#4a669e" stroke-width="0.8"/>
<line x1="496.30" y1="261.60" x2="496.30" y2="264.80" stroke="#4a669e" stroke-width="0.8"/>
<polyline points="310.00,250.70 313.00,251.00 315.00,252.50 317.00,253.50 318.50,256.00 321.00,256.70 324.00,256.70 327.00,258.50 330.00,259.20 333.00,261.00 336.00,262.50 339.00,264.50 341.50,265.00 344.00,267.00 347.00,268.00 350.00,270.50 353.00,271.30 357.00,271.80 359.00,272.00 361.00,273.00 365.00,274.50 369.00,276.00 373.00,277.00 378.00,277.20 381.00,277.80 385.00,278.30 389.00,278.30 392.00,279.20 395.00,280.50 398.00,281.30 403.00,281.30 411.00,282.40 419.00,284.60 423.00,287.00 431.00,288.00 439.00,289.00 446.00,289.60 450.00,293.00 455.00,294.00 461.00,296.00 467.00,298.40 472.00,301.00 479.00,301.60 505.00,301.60" fill="none" stroke="#ac0e38" stroke-width="1.15" stroke-linejoin="round"/>
<line x1="311.50" y1="249.45" x2="311.50" y2="252.25" stroke="#ac0e38" stroke-width="0.8"/>
<line x1="315.00" y1="251.10" x2="315.00" y2="253.90" stroke="#ac0e38" stroke-width="0.8"/>
<line x1="317.50" y1="252.93" x2="317.50" y2="255.73" stroke="#ac0e38" stroke-width="0.8"/>
<line x1="316.00" y1="251.60" x2="316.00" y2="254.40" stroke="#ac0e38" stroke-width="0.8"/>
<line x1="327.00" y1="257.10" x2="327.00" y2="259.90" stroke="#ac0e38" stroke-width="0.8"/>
<line x1="330.00" y1="257.80" x2="330.00" y2="260.60" stroke="#ac0e38" stroke-width="0.8"/>
<line x1="340.00" y1="263.30" x2="340.00" y2="266.10" stroke="#ac0e38" stroke-width="0.8"/>
<line x1="349.00" y1="268.27" x2="349.00" y2="271.07" stroke="#ac0e38" stroke-width="0.8"/>
<line x1="356.00" y1="270.28" x2="356.00" y2="273.07" stroke="#ac0e38" stroke-width="0.8"/>
<line x1="362.00" y1="271.98" x2="362.00" y2="274.77" stroke="#ac0e38" stroke-width="0.8"/>
<line x1="375.00" y1="275.68" x2="375.00" y2="278.48" stroke="#ac0e38" stroke-width="0.8"/>
<line x1="380.00" y1="276.20" x2="380.00" y2="279.00" stroke="#ac0e38" stroke-width="0.8"/>
<line x1="385.00" y1="276.90" x2="385.00" y2="279.70" stroke="#ac0e38" stroke-width="0.8"/>
<line x1="389.00" y1="276.90" x2="389.00" y2="279.70" stroke="#ac0e38" stroke-width="0.8"/>
<line x1="391.00" y1="277.50" x2="391.00" y2="280.30" stroke="#ac0e38" stroke-width="0.8"/>
<line x1="393.00" y1="278.23" x2="393.00" y2="281.03" stroke="#ac0e38" stroke-width="0.8"/>
<line x1="395.00" y1="279.10" x2="395.00" y2="281.90" stroke="#ac0e38" stroke-width="0.8"/>
<line x1="398.00" y1="279.90" x2="398.00" y2="282.70" stroke="#ac0e38" stroke-width="0.8"/>
<line x1="402.00" y1="279.90" x2="402.00" y2="282.70" stroke="#ac0e38" stroke-width="0.8"/>
<line x1="409.00" y1="280.73" x2="409.00" y2="283.52" stroke="#ac0e38" stroke-width="0.8"/>
<line x1="418.00" y1="282.93" x2="418.00" y2="285.73" stroke="#ac0e38" stroke-width="0.8"/>
<line x1="425.00" y1="285.85" x2="425.00" y2="288.65" stroke="#ac0e38" stroke-width="0.8"/>
<line x1="430.00" y1="286.48" x2="430.00" y2="289.27" stroke="#ac0e38" stroke-width="0.8"/>
<line x1="437.00" y1="287.35" x2="437.00" y2="290.15" stroke="#ac0e38" stroke-width="0.8"/>
<line x1="441.00" y1="287.77" x2="441.00" y2="290.57" stroke="#ac0e38" stroke-width="0.8"/>
<line x1="443.00" y1="287.94" x2="443.00" y2="290.74" stroke="#ac0e38" stroke-width="0.8"/>
<line x1="452.00" y1="292.00" x2="452.00" y2="294.80" stroke="#ac0e38" stroke-width="0.8"/>
<line x1="458.00" y1="293.60" x2="458.00" y2="296.40" stroke="#ac0e38" stroke-width="0.8"/>
<line x1="465.00" y1="296.20" x2="465.00" y2="299.00" stroke="#ac0e38" stroke-width="0.8"/>
<line x1="474.00" y1="299.77" x2="474.00" y2="302.57" stroke="#ac0e38" stroke-width="0.8"/>
<line x1="477.00" y1="300.03" x2="477.00" y2="302.83" stroke="#ac0e38" stroke-width="0.8"/>
<line x1="481.00" y1="300.20" x2="481.00" y2="303.00" stroke="#ac0e38" stroke-width="0.8"/>
<line x1="485.00" y1="300.20" x2="485.00" y2="303.00" stroke="#ac0e38" stroke-width="0.8"/>
<line x1="488.00" y1="300.20" x2="488.00" y2="303.00" stroke="#ac0e38" stroke-width="0.8"/>
<line x1="491.00" y1="300.20" x2="491.00" y2="303.00" stroke="#ac0e38" stroke-width="0.8"/>
<line x1="494.00" y1="300.20" x2="494.00" y2="303.00" stroke="#ac0e38" stroke-width="0.8"/>
<line x1="497.00" y1="300.20" x2="497.00" y2="303.00" stroke="#ac0e38" stroke-width="0.8"/>
<line x1="500.00" y1="300.20" x2="500.00" y2="303.00" stroke="#ac0e38" stroke-width="0.8"/>
<line x1="503.00" y1="300.20" x2="503.00" y2="303.00" stroke="#ac0e38" stroke-width="0.8"/>
</svg>
<div class="bd"></div>
</body></html>
